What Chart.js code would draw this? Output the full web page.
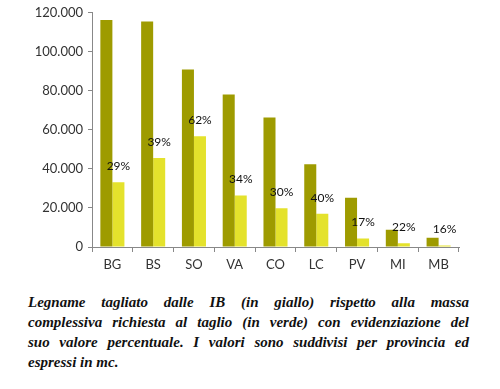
<!DOCTYPE html>
<html>
<head>
<meta charset="utf-8">
<script src="https://cdn.jsdelivr.net/npm/chart.js@4"></script>
<style>
  html, body { margin: 0; padding: 0; background: #fff; }
  #wrap { position: relative; width: 500px; height: 280px; }
  #caption {
    position: absolute; left: 28px; top: 292px; width: 441px;
    font-family: "Liberation Serif", serif; font-weight: bold; font-style: italic;
    font-size: 15px; line-height: 20px; color: #111;
  }
  #caption .j { text-align: justify; text-align-last: justify; }
</style>
</head>
<body>
<div id="wrap"><canvas id="chart" width="500" height="281"></canvas></div>
<div id="caption">
  <div class="j">Legname tagliato dalle IB (in giallo) rispetto alla massa</div>
  <div class="j">complessiva richiesta al taglio (in verde) con evidenziazione del</div>
  <div class="j">suo valore percentuale. I valori sono suddivisi per provincia ed</div>
  <div>espressi in mc.</div>
</div>
<script>
const province = ['BG', 'BS', 'SO', 'VA', 'CO', 'LC', 'PV', 'MI', 'MB'];
const richiesta = [116300, 115500, 90900, 78100, 66300, 42400, 25200, 8800, 4800];
const tagliato = [33200, 45600, 56800, 26400, 19800, 17000, 4300, 1900, 750];
const percentuali = ['29%', '39%', '62%', '34%', '30%', '40%', '17%', '22%', '16%'];

const tickFont = { family: 'Lato', size: 13 };

// draws the percentage over each yellow bar
const percentLabels = {
  id: 'percentLabels',
  afterDatasetsDraw(chart) {
    const ctx = chart.ctx;
    const bars = chart.getDatasetMeta(1).data;
    ctx.save();
    ctx.font = '12px Lato';
    ctx.fillStyle = '#111';
    ctx.textAlign = 'center';
    ctx.textBaseline = 'middle';
    bars.forEach((bar, i) => {
      ctx.fillText(percentuali[i], bar.x, bar.y - 16);
    });
    ctx.restore();
  }
};

new Chart(document.getElementById('chart'), {
  type: 'bar',
  data: {
    labels: province,
    datasets: [
      { label: 'richiesta', data: richiesta, backgroundColor: '#9e9b00',
        categoryPercentage: 0.59, barPercentage: 1 },
      { label: 'tagliato', data: tagliato, backgroundColor: '#e4e22c',
        categoryPercentage: 0.59, barPercentage: 1 }
    ]
  },
  options: {
    responsive: false,
    animation: false,
    layout: { padding: { top: 11, right: 41, bottom: 0, left: 0 } },
    plugins: { legend: { display: false }, tooltip: { enabled: false } },
    scales: {
      x: {
        grid: { drawOnChartArea: false, drawTicks: true, tickLength: 5, offset: true, color: '#888' },
        border: { color: '#888' },
        ticks: { font: tickFont, color: '#333', padding: 5 },
        afterFit: s => { s.height = 34; }
      },
      y: {
        min: 0, max: 120000,
        grid: { drawOnChartArea: false, drawTicks: true, tickLength: 4, color: '#888' },
        border: { color: '#888' },
        ticks: {
          stepSize: 20000, font: tickFont, color: '#333', padding: 5,
          callback: v => v.toLocaleString('de-DE')
        },
        afterFit: s => { s.width = 92; }
      }
    }
  },
  plugins: [percentLabels]
});
</script>
</body>
</html>
